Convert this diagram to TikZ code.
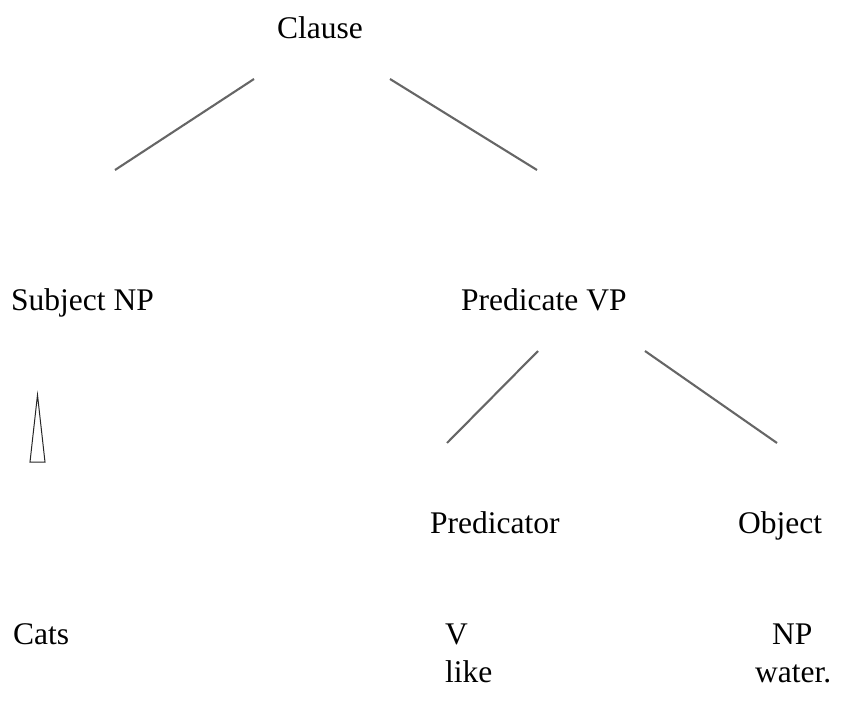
\documentclass[tikz,border=0pt]{standalone}
\usepackage{fontspec}
\setmainfont{Liberation Serif}
\begin{document}
\begin{tikzpicture}[x=1pt,y=-1pt,
  lbl/.style={anchor=base west,inner sep=0pt,font=\fontsize{31.5}{36}\selectfont},
  branch/.style={draw=black!60,line width=2.1pt},
  tri/.style={draw=black!85,line width=1pt}]
\useasboundingbox (0,0) rectangle (845,701);
\node[lbl] (clause) at (277,39) {Clause};
\node[lbl] (subj) at (11,310) {Subject NP};
\node[lbl] (pred) at (461,310) {Predicate VP};
\node[lbl] (predr) at (430,533) {Predicator};
\node[lbl] (obj) at (738,533) {Object};
\node[lbl] (cats) at (13,644) {Cats};
\node[lbl] (v) at (445,644) {V};
\node[lbl] (np) at (772,644) {NP};
\node[lbl] (like) at (445,682) {like};
\node[lbl] (water) at (755,682) {water.};
\coordinate (c1) at (254,79);
\coordinate (c2) at (115,170);
\coordinate (c3) at (390,79);
\coordinate (c4) at (537,170);
\coordinate (p1) at (538,351);
\coordinate (p2) at (447,443);
\coordinate (p3) at (645,351);
\coordinate (p4) at (777,443);
\coordinate (t1) at (37.5,395);
\coordinate (t2) at (30,462);
\coordinate (t3) at (45,462);
\draw[branch] (c1) -- (c2);
\draw[branch] (c3) -- (c4);
\draw[branch] (p1) -- (p2);
\draw[branch] (p3) -- (p4);
\draw[tri] (t1) -- (t2) -- (t3) -- cycle;
\end{tikzpicture}
\end{document}
